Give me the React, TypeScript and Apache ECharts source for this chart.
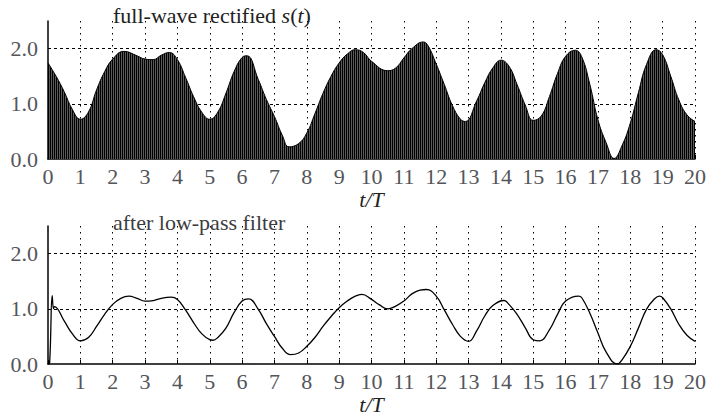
import React, { useEffect, useRef } from "react";
import * as echarts from "echarts";

// Envelope of the full-wave rectified signal s(t)
const envT = [0, 0.25, 0.5, 0.75, 1.0, 1.25, 1.5, 1.75, 2.0, 2.35, 2.75, 3.0, 3.25, 3.5, 3.75, 4.0, 4.25, 4.5, 4.75, 5.0, 5.25, 5.5, 5.75, 6.0, 6.15, 6.5, 6.75, 7.0, 7.25, 7.45, 7.75, 8.0, 8.25, 8.5, 8.75, 9.0, 9.25, 9.5, 9.75, 10.0, 10.5, 10.75, 11.0, 11.25, 11.6, 11.75, 12.0, 12.25, 12.5, 12.75, 12.9, 13.25, 13.5, 13.75, 14.0, 14.25, 14.5, 14.75, 15.0, 15.25, 15.5, 15.75, 16.0, 16.3, 16.5, 16.75, 17.0, 17.25, 17.5, 17.75, 18.0, 18.25, 18.5, 18.8, 19.0, 19.25, 19.5, 19.75, 20.0];
const envV = [1.74, 1.5, 1.22, 0.9, 0.72, 0.85, 1.25, 1.58, 1.81, 1.95, 1.87, 1.81, 1.8, 1.88, 1.93, 1.8, 1.48, 1.13, 0.85, 0.72, 0.85, 1.19, 1.58, 1.84, 1.87, 1.44, 1.08, 0.77, 0.42, 0.22, 0.28, 0.47, 0.82, 1.19, 1.5, 1.74, 1.9, 1.98, 1.93, 1.77, 1.6, 1.65, 1.83, 2.0, 2.12, 2.05, 1.72, 1.35, 0.97, 0.72, 0.68, 1.05, 1.38, 1.65, 1.79, 1.68, 1.35, 0.98, 0.7, 0.78, 1.13, 1.55, 1.86, 1.97, 1.85, 1.35, 0.71, 0.3, 0.01, 0.25, 0.65, 1.2, 1.71, 1.98, 1.89, 1.5, 1.07, 0.8, 0.68];

// Output of the low-pass filter
const lpT = [0, 0.05, 0.13, 0.17, 0.2, 0.5, 0.75, 1.0, 1.25, 1.5, 1.75, 2.0, 2.25, 2.5, 2.75, 3.0, 3.25, 3.5, 3.8, 4.0, 4.25, 4.5, 4.75, 5.0, 5.1, 5.25, 5.5, 5.75, 6.0, 6.2, 6.5, 6.75, 7.0, 7.25, 7.5, 7.75, 8.0, 8.25, 8.5, 8.75, 9.0, 9.25, 9.5, 9.7, 10.0, 10.25, 10.5, 10.75, 11.0, 11.25, 11.5, 11.7, 12.0, 12.25, 12.5, 12.75, 13.0, 13.25, 13.5, 13.75, 14.1, 14.25, 14.5, 14.75, 15.0, 15.2, 15.5, 15.75, 16.0, 16.4, 16.5, 16.75, 17.0, 17.25, 17.6, 17.75, 18.0, 18.25, 18.5, 18.75, 18.9, 19.0, 19.25, 19.5, 19.75, 20.0];
const lpV = [0, 0.02, 1.24, 1.0, 1.04, 0.78, 0.55, 0.42, 0.48, 0.68, 0.9, 1.08, 1.19, 1.23, 1.19, 1.14, 1.15, 1.19, 1.21, 1.17, 0.98, 0.75, 0.55, 0.44, 0.43, 0.48, 0.65, 0.93, 1.14, 1.18, 0.99, 0.73, 0.5, 0.28, 0.17, 0.2, 0.32, 0.48, 0.68, 0.86, 1.02, 1.14, 1.23, 1.26, 1.17, 1.07, 1.0, 1.05, 1.14, 1.27, 1.34, 1.35, 1.23, 0.98, 0.72, 0.5, 0.41, 0.6, 0.87, 1.06, 1.15, 1.08, 0.9, 0.66, 0.44, 0.42, 0.62, 0.9, 1.14, 1.23, 1.2, 0.92, 0.56, 0.22, 0.0, 0.08, 0.32, 0.65, 0.99, 1.18, 1.23, 1.2, 1.0, 0.72, 0.52, 0.41];

const xName = "t/T";
const topTitle = "full-wave rectified ";
const bottomTitle = "after low-pass filter";

const FONT = "Liberation Serif";

function makeStripes(): HTMLCanvasElement {
  const c = document.createElement("canvas");
  c.width = 2;
  c.height = 4;
  const ctx = c.getContext("2d")!;
  ctx.fillStyle = "#000";
  ctx.fillRect(0, 0, 1, 4);
  ctx.fillStyle = "#5a5a5a";
  ctx.fillRect(1, 0, 1, 4);
  return c;
}

export default function App() {
  const ref = useRef<HTMLDivElement>(null);
  useEffect(() => {
    const chart = echarts.init(ref.current!, null, { renderer: "svg" });
    const xAxis = (gridIndex: number) => ({
      type: "value",
      gridIndex,
      min: 0,
      max: 20,
      interval: 1,
      name: xName,
      nameLocation: "middle",
      nameGap: 29,
      nameTextStyle: { fontFamily: FONT, fontSize: 22, fontStyle: "italic" },
      axisLine: { show: true, onZero: false, lineStyle: { color: "#000", width: 1.5 } },
      axisTick: { show: true, inside: true, length: 4, lineStyle: { color: "#000" } },
      axisLabel: { fontFamily: FONT, fontSize: 22, margin: 6 },
      splitLine: {
        show: true,
        showMinLine: false,
        showMaxLine: true,
        lineStyle: { color: "#000", width: 1, type: [1.5, 4.5] },
      },
    });
    const yAxis = (gridIndex: number) => ({
      type: "value",
      gridIndex,
      min: 0,
      max: 2.5,
      interval: 1,
      axisLine: { show: true, onZero: false, lineStyle: { color: "#000", width: 1.5 } },
      axisTick: { show: false },
      axisLabel: {
        fontFamily: FONT,
        fontSize: 22,
        margin: 10,
        showMaxLabel: false,
        formatter: (v: number) => (Number.isInteger(v) ? v.toFixed(1) : ""),
      },
      splitLine: {
        show: true,
        showMinLine: false,
        showMaxLine: false,
        lineStyle: { color: "#000", width: 1, type: [3, 3] },
      },
    });
    chart.setOption({
      animation: false,
      textStyle: { fontFamily: FONT, color: "#222" },
      title: [
        {
          text: "{n|" + topTitle + "}{i|s}{n|(}{i|t}{n|)}",
          left: 113,
          top: 4,
          padding: 0,
          textStyle: {
            fontFamily: FONT,
            fontSize: 22,
            fontWeight: "normal",
            rich: {
              n: { fontFamily: FONT, fontSize: 22 },
              i: { fontFamily: FONT, fontSize: 22, fontStyle: "italic" },
            },
          },
        },
        {
          text: bottomTitle,
          left: 113,
          top: 211,
          padding: 0,
          textStyle: { fontFamily: FONT, fontSize: 22, fontWeight: "normal" },
        },
      ],
      grid: [
        { left: 48, top: 21, width: 650, height: 138 },
        { left: 48, top: 226, width: 650, height: 138 },
      ],
      xAxis: [xAxis(0), xAxis(1)],
      yAxis: [yAxis(0), yAxis(1)],
      series: [
        {
          type: "line",
          xAxisIndex: 0,
          yAxisIndex: 0,
          data: envT.map((t, i) => [t, envV[i]]),
          showSymbol: false,
          smooth: 0.45,
          lineStyle: { color: "#000", width: 1 },
          areaStyle: {
            color: { image: makeStripes(), repeat: "repeat" },
            opacity: 1,
            origin: "start",
          },
        },
        {
          type: "line",
          xAxisIndex: 1,
          yAxisIndex: 1,
          data: lpT.map((t, i) => [t, lpV[i]]),
          showSymbol: false,
          smooth: 0.45,
          lineStyle: { color: "#000", width: 1.3 },
        },
      ],
    });
    return () => chart.dispose();
  }, []);
  return (
    <div
      ref={ref}
      style={{ position: "absolute", left: 0, top: 0, width: 709, height: 419 }}
    />
  );
}
